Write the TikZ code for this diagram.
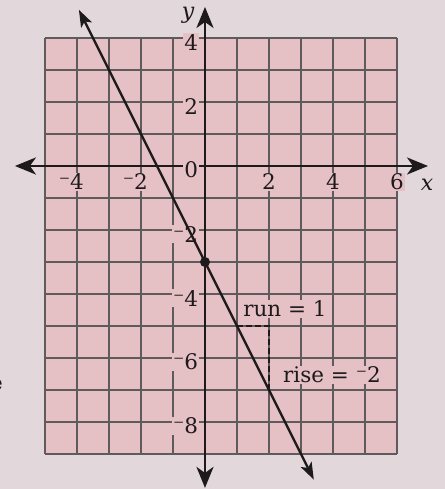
\documentclass[tikz,border=0pt]{standalone}
\usepackage{fontspec}
\setmainfont{DejaVu Serif}
\usetikzlibrary{arrows.meta}
\definecolor{bgcol}{RGB}{226,216,220}
\definecolor{gridfill}{RGB}{229,193,197}
\definecolor{gridline}{RGB}{95,90,92}
\definecolor{ink}{RGB}{30,26,28}
\newcommand{\rminus}{⁻}
\begin{document}
\begin{tikzpicture}[x=32pt,y=32pt,
  lbl/.style={font=\fontsize{21.5}{24}\selectfont, text=ink, fill=gridfill, inner sep=1pt},
  axisline/.style={draw=ink, line width=2.6pt},
  mainline/.style={draw=ink, line width=2.3pt},
  dashline/.style={draw=ink, line width=2pt, dash pattern=on 6pt off 3pt}]
\useasboundingbox (-6.406,-10.094) rectangle (7.5,5.1875);
\fill[bgcol] (-6.406,-10.094) rectangle (7.5,5.1875);
\fill[gridfill] (-5,-9) rectangle (6,4);
\draw[gridline, line width=1.1pt, step={(1,1)}] (-5,-9) grid (6,4);
% axes
\coordinate (xl) at (-5.94,0);
\coordinate (xr) at (6.97,0);
\coordinate (yt) at (0,4.97);
\coordinate (yb) at (0,-10.06);
\draw[axisline, {Stealth[length=21pt,width=17pt,inset=6pt]}-{Stealth[length=21pt,width=17pt,inset=6pt]}] (xl) -- (xr);
\draw[axisline, {Stealth[length=21pt,width=17pt,inset=6pt]}-{Stealth[length=21pt,width=17pt,inset=6pt]}] (yb) -- (yt);
\node[font=\fontsize{22}{24}\selectfont\itshape, text=ink, inner sep=0pt] (ylab) at (-0.53,4.72) {y};
\node[font=\fontsize{22}{24}\selectfont\itshape, text=ink, inner sep=0pt] (xlab) at (6.94,-0.6) {x};
% x tick labels
\foreach \v/\t in {-4/{\llap{\rminus}4},-2/{\llap{\rminus}2},2/2,4/4,6/6}
  \node[lbl, anchor=north] (xt\v) at (\v,-0.2) {\t};
% y tick labels
\foreach \v/\t in {4/4,2/2,0/0,-2/{\rminus 2},-4/{\rminus 4},-6/{\rminus 6},-8/{\rminus 8}}
  \node[lbl, anchor=east] (yt\v) at (-0.18,\v-0.13) {\t};
% main line
\coordinate (la) at (-3.94,4.88);
\coordinate (lb) at (3.40,-9.80);
\draw[mainline, {Stealth[length=17pt,width=12pt,inset=4pt]}-{Stealth[length=17pt,width=12pt,inset=4pt]}] (la) -- (lb);
% run / rise
\coordinate (p1) at (1,-5);
\coordinate (pc) at (2,-5);
\coordinate (p2) at (2,-7);
\draw[dashline] (p1) -- (pc) -- (p2);
\fill[ink] (0,-3) circle (5pt);
\node[lbl] (run) at (2.5,-4.47) {run = 1};
\node[lbl] (rise) at (3.97,-6.53) {rise = \rminus 2};
% fragment of surrounding text
\node[font=\fontsize{21.5}{24}\selectfont, text=ink, anchor=east, inner sep=0pt] (frag) at (-6.31,-6.85) {e};
\end{tikzpicture}
\end{document}
